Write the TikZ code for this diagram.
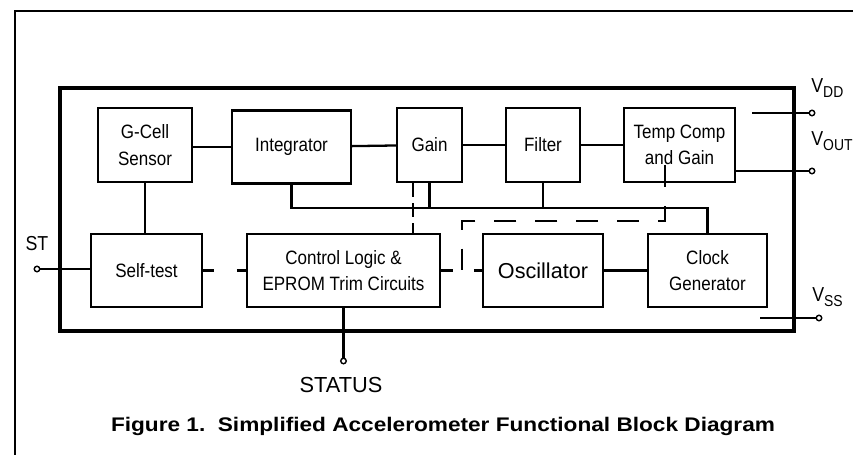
\documentclass[tikz,border=0pt]{standalone}
\usepackage{fontspec}
\setmainfont{Liberation Sans}
\newfontfamily\blkfont[FakeStretch = 0.88]{Liberation Sans}
\newfontfamily\capfont[FakeStretch = 1.15]{Liberation Sans}
\usepackage{tikz}
\usetikzlibrary{positioning}
\tikzset{blk/.style = {draw, line width = 1.3pt, align = center,
                       font = \blkfont\fontsize{11}{15}\selectfont, inner sep = 0}}
\tikzset{term/.style = {draw, circle, line width = 0.8pt, fill = white,
                        inner sep = 0, minimum size = 0.11cm}}
\tikzset{wire/.style = {line width = 1.3pt}}
\tikzset{ctl/.style = {line width = 1.3pt, dash pattern = on 12.5pt off 10.8pt}}
\tikzset{lbl/.style = {font = \blkfont\fontsize{11.5}{13}\selectfont, inner sep = 0}}
\newcommand{\lowsub}[1]{\raisebox{-0.45ex}{\fontsize{9}{10}\selectfont #1}}

\begin{document}
\begin{tikzpicture}[x = 0.02cm, y = -0.02cm]
    \useasboundingbox (0, 0) rectangle (853, 455);
    \draw [line width = 1.2pt] (15, 460) -- (15, 11) -- (860, 11);
    \draw [line width = 1.8pt] (60, 88) rectangle (794, 331);

    \node [blk, minimum width = 1.88cm, minimum height = 1.48cm] (gcell) at (145, 145) {G-Cell\\Sensor};
    \node [blk, minimum width = 2.38cm, minimum height = 1.46cm] (integ) at (291.5, 147) {Integrator};
    \node [blk, minimum width = 1.30cm, minimum height = 1.48cm] (gain) at (429.5, 145) {Gain};
    \node [blk, minimum width = 1.48cm, minimum height = 1.48cm] (filter) at (543, 145) {Filter};
    \node [blk, minimum width = 2.22cm, minimum height = 1.48cm] (temp) at (679.5, 145) {Temp Comp\\and Gain};
    \node [blk, minimum width = 2.22cm, minimum height = 1.46cm] (selftest) at (146.5, 270.5) {Self-test};
    \node [blk, minimum width = 3.86cm, minimum height = 1.46cm] (ctrl) at (343.5, 270.5) {Control Logic \&\\EPROM Trim Circuits};
    \node [blk, minimum width = 2.40cm, minimum height = 1.46cm,
           font = \fontsize{12.3}{14}\selectfont] (osc) at (543, 270.5) {Oscillator};
    \node [blk, minimum width = 2.38cm, minimum height = 1.46cm] (clk) at (707.5, 270.5) {Clock\\Generator};

    \node [term] (vdd) at (812, 113) {};
    \node [term] (vout) at (812, 171) {};
    \node [term] (vss) at (819, 318) {};
    \node [term] (st) at (37, 269) {};
    \node [term] (status) at (343.5, 361) {};
    \coordinate (vddin) at (752, 113);
    \coordinate (vssin) at (760, 318);
    \coordinate (bus) at (0, 208);
    \coordinate (tcin) at (665, 165);
    \coordinate (dj) at (462, 221);

    \node [lbl, anchor = west] (vddl) at (811, 88) {V\lowsub{DD}};
    \node [lbl, anchor = west] (voutl) at (811, 141) {V\lowsub{OUT}};
    \node [lbl, anchor = west] (vssl) at (812, 297) {V\lowsub{SS}};
    \node [lbl] (stl) at (37, 244) {ST};
    \node [lbl, font = \fontsize{12.4}{14}\selectfont] (statusl) at (341, 385) {STATUS};
    \node [font = \capfont\fontsize{11.2}{12}\selectfont\bfseries, inner sep = 0] (caption) at (443, 426)
      {Figure 1.\ \ Simplified Accelerometer Functional Block Diagram};

    \draw [wire] (gcell) -- (gcell.east |- integ.west) -- (integ.west);
    \draw [wire] (integ) -- (gain);
    \draw [wire] (gain) -- (filter);
    \draw [wire] (filter) -- (temp);
    \draw [wire] (osc) -- (clk);
    \draw [wire] (gcell.south) -- (gcell.south |- selftest.north);
    \draw [wire] (st) -- (st -| selftest.west);
    \draw [wire] (ctrl.south) -- (status);
    \draw [wire] (integ.south) |- (bus -| clk.north) -- (clk.north);
    \draw [wire] (gain.south) -- (gain.south |- bus);
    \draw [wire] (filter.south) -- (filter.south |- bus);
    \draw [wire] (vddin) -- (vdd);
    \draw [wire] (vout -| temp.east) -- (vout);
    \draw [wire] (vssin) -- (vss);

    \draw [wire, dash pattern = on 6.2pt off 13pt] (selftest.east |- ctrl.west) -- (ctrl.west);
    \draw [wire, dash pattern = on 6.8pt off 11.9pt] (ctrl.east) -- (osc.west);
    \draw [wire, dash pattern = on 8pt off 3.4pt] ([xshift = -0.33cm]gain.south) -- ([xshift = -0.33cm]gain.south |- ctrl.north);
    \draw [ctl] (tcin) |- (dj) -- (dj |- osc.west);
\end{tikzpicture}
\end{document}
